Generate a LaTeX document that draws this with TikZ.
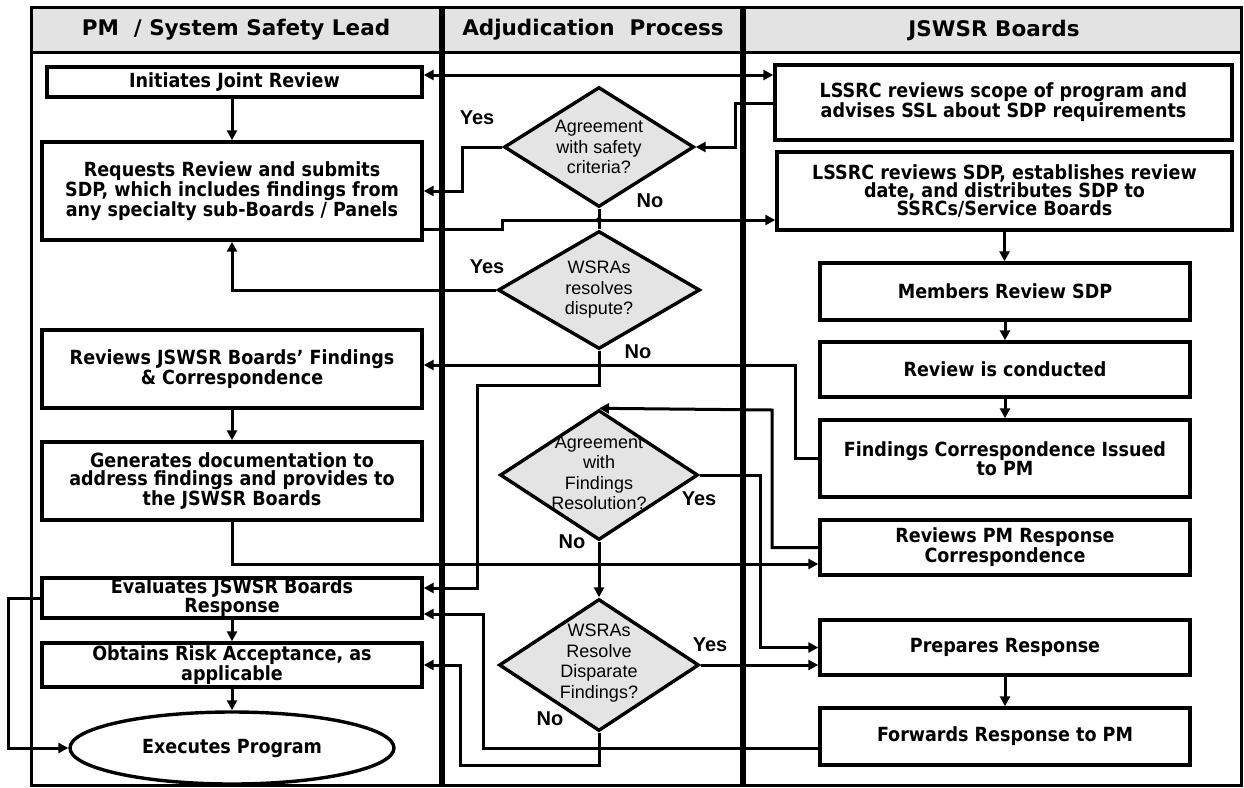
\documentclass[tikz,border=0pt]{standalone}
\usepackage{fontspec}
\setmainfont{DejaVu Sans}
\newfontfamily\boxfont{DejaVuSansCondensed-Bold.ttf}
\newfontfamily\headfont{DejaVu Sans}
\newfontfamily\arialfont{Liberation Sans}
\usetikzlibrary{shapes.geometric,arrows.meta}
\definecolor{hdrgray}{HTML}{E3E3E3}
\definecolor{diagray}{HTML}{E4E4E4}
\tikzset{
  boxnode/.style={draw, line width=3.4pt, fill=white, inner sep=1pt, align=center,
    font=\boxfont\fontsize{19.5}{18}\selectfont},
  dianode/.style={diamond, draw, line width=3.4pt, fill=diagray, inner sep=0pt},
  dtext/.style={align=center, inner sep=0pt, font=\arialfont\fontsize{18}{20.5}\selectfont},
  lbl/.style={inner sep=0pt, font=\arialfont\bfseries\fontsize{20}{22}\selectfont},
  hdr/.style={inner sep=0pt, font=\headfont\bfseries\fontsize{21.5}{24}\selectfont},
  conn/.style={line width=3pt, line join=miter},
  arr/.style={conn, -{Triangle[length=10pt,width=10pt]}},
  darr/.style={conn, {Triangle[length=10pt,width=10pt]}-{Triangle[length=10pt,width=10pt]}}
}
\begin{document}
\begin{tikzpicture}[x=1pt,y=-1pt]
\useasboundingbox (0,0) rectangle (1244,787);
% frame and header
\fill[hdrgray] (31,7) rectangle (1241,52);
\draw[line width=3pt] (31,52) -- (1241,52);
\draw[line width=3pt] (31,7) rectangle (1241,785);
\draw[line width=5.5pt] (442,7) -- (442,785);
\draw[line width=5.5pt] (743,7) -- (743,785);
\node[hdr] (h1) at (236,30) {PM\ \ / System Safety Lead};
\node[hdr] (h2) at (593,30) {Adjudication\ \ Process};
\node[hdr] (h3) at (994,30) {JSWSR Boards};

% left lane
\node[boxnode, minimum width=375pt, minimum height=30pt] (init) at (234.5,82) {Initiates Joint Review};
\node[boxnode, minimum width=380pt, minimum height=98pt] (req) at (232,191) {Requests Review and submits\\SDP, which includes findings from\\any specialty sub-Boards / Panels};
\node[boxnode, minimum width=380pt, minimum height=78pt] (revf) at (232,369) {Reviews JSWSR Boards’ Findings\\\& Correspondence};
\node[boxnode, minimum width=380pt, minimum height=78pt] (gen) at (232,481) {Generates documentation to\\address findings and provides to\\the JSWSR Boards};
\node[boxnode, minimum width=380pt, minimum height=40pt] (eval) at (232,598) {Evaluates JSWSR Boards\\Response};
\node[boxnode, minimum width=380pt, minimum height=44pt] (obt) at (232,665) {Obtains Risk Acceptance, as\\applicable};
\node[boxnode, ellipse, minimum width=324pt, minimum height=72pt] (exec) at (232,748) {Executes Program};

% right lane
\node[boxnode, minimum width=457pt, minimum height=75pt] (lss1) at (1003.5,102.5) {LSSRC reviews scope of program and\\advises SSL about SDP requirements};
\node[boxnode, minimum width=455pt, minimum height=78pt] (lss2) at (1004.5,191) {LSSRC reviews SDP, establishes review\\date, and distributes SDP to\\SSRCs/Service Boards};
\node[boxnode, minimum width=370pt, minimum height=57pt] (mem) at (1005,291.5) {Members Review SDP};
\node[boxnode, minimum width=370pt, minimum height=55pt] (rc) at (1005,369.5) {Review is conducted};
\node[boxnode, minimum width=370pt, minimum height=77pt] (fc) at (1005,458.5) {Findings Correspondence Issued\\to PM};
\node[boxnode, minimum width=370pt, minimum height=55pt] (rpm) at (1005,547.5) {Reviews PM Response\\Correspondence};
\node[boxnode, minimum width=370pt, minimum height=55pt] (prep) at (1005,647.5) {Prepares Response};
\node[boxnode, minimum width=370pt, minimum height=57pt] (fwd) at (1005,736.5) {Forwards Response to PM};

% diamonds
\node[dianode, minimum width=190pt, minimum height=120pt] (d1) at (599,147) {};
\node[dtext] (t1) at (599,147) {Agreement\\with safety\\criteria?};
\node[dianode, minimum width=202pt, minimum height=118pt] (d2) at (599,290) {};
\node[dtext] (t2) at (599,290) {WSRAs\\resolves\\dispute?};
\node[dianode, minimum width=198pt, minimum height=130pt] (d3) at (599,475) {};
\node[dtext] (t3) at (599,473) {Agreement\\with\\Findings\\Resolution?};
\node[dianode, minimum width=200pt, minimum height=132pt] (d4) at (599,665) {};
\node[dtext] (t4) at (599,663) {WSRAs\\Resolve\\Disparate\\Findings?};

% labels
\node[lbl] (y1) at (477,118) {Yes};
\node[lbl] (n1) at (650,201) {No};
\node[lbl] (y2) at (487,267) {Yes};
\node[lbl] (n2) at (638,352) {No};
\node[lbl] (y3) at (699,499) {Yes};
\node[lbl] (n3) at (572,542) {No};
\node[lbl] (y4) at (710,645) {Yes};
\node[lbl] (n4) at (550,719) {No};

% connectors
\draw[darr] (init.east |- 0,75) -- (lss1.west |- 0,75);
\draw[arr] (req.north |- init.south) -- (req.north);
\draw[arr] (lss1.west |- 0,103) -- (735,103) |- (d1.east);
\draw[arr] (d1.west) -- (462,147) |- (req.east);
\draw[conn] (d1.south) -- (d2.north);
\fill (599,220) circle (3pt);
\draw[arr] (req.east |- 0,229) -| (502,220) -- (lss2.west |- 0,220);
\draw[arr] (d2.west) -| (req.south);
\draw[arr] (d2.south) |- (477,385) |- (eval.east |- 0,588);
\draw[arr] (fc.west) -| (795,365) -- (revf.east |- 0,365);
\draw[arr] (rpm.west) -| (772,410) -- (d3.north);
\draw[arr] (d3.east) -- (760,475) |- (prep.west);
\draw[arr] (d3.south) -- (d4.north);
\draw[arr] (gen.south) |- (rpm.west |- 0,564);
\draw[arr] (d4.east) -- (prep.west |- d4.east);
\draw[arr] (d4.south) |- (460,765) |- (obt.east);
\draw[arr] (fwd.west |- 0,748) -| (483,614) -- (eval.east |- 0,614);
\draw[arr] (lss2.south) -- (lss2.south |- mem.north);
\draw[arr] (mem.south) -- (rc.north);
\draw[arr] (rc.south) -- (fc.north);
\draw[arr] (prep.south) -- (fwd.north);
\draw[arr] (revf.south) -- (gen.north);
\draw[arr] (eval.south) -- (obt.north);
\draw[arr] (obt.south) -- (exec.north);
\draw[arr] (eval.west) -- (8,598) |- (exec.west);
\end{tikzpicture}
\end{document}
